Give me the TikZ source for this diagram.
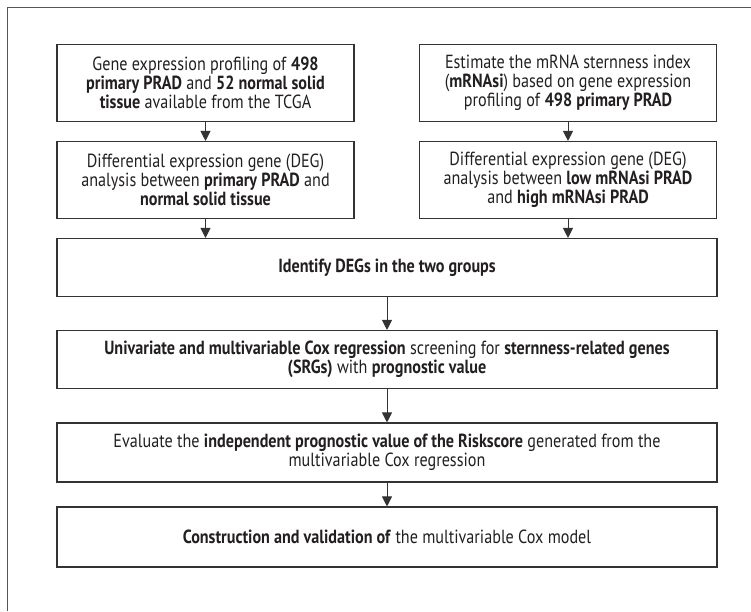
\documentclass[tikz,border=0pt]{standalone}
\usepackage{fontspec}
\setmainfont[FakeStretch=0.85]{PT Sans}
\usetikzlibrary{calc,arrows.meta}
\definecolor{linea}{HTML}{333333}
\definecolor{marco}{HTML}{555555}
\definecolor{texto}{HTML}{231F20}

\begin{document}
\begin{tikzpicture}[
      x=1pt, y=-1pt,
      paso/.style={draw=linea, line width=1.1pt, align=center, text=texto,
                   font=\fontsize{19}{19}\selectfont, inner sep=0pt,
                   minimum width=297pt, minimum height=77pt},
      ancho/.style={paso, minimum width=660pt, minimum height=58pt},
      flecha/.style={draw=linea, line width=1pt,
                     -{Triangle[width=10pt,length=10pt]}}
    ]
    \useasboundingbox (0,0) rectangle (751,611);
    \draw[marco, line width=0.8pt] (7,611) -- (7,7) -- (751,7);

    \node[paso] (perfil) at (205.5,83)  {Gene expression profiling of \textbf{498}\\
      \textbf{primary PRAD} and \textbf{52 normal solid}\\
      \textbf{tissue} available from the TCGA};
    \node[paso] (degn)   at (205.5,180) {Differential expression gene (DEG)\\
      analysis between \textbf{primary PRAD} and\\
      \textbf{normal solid tissue}};
    \node[paso] (indice) at (568,83)    {Estimate the mRNA sternness index\\
      (\textbf{mRNAsi}) based on gene expression\\
      profiling of \textbf{498 primary PRAD}};
    \node[paso] (degm)   at (568,180)   {Differential expression gene (DEG)\\
      analysis between \textbf{low mRNAsi PRAD}\\
      and \textbf{high mRNAsi PRAD}};
    \node[ancho] (ident) at (387,267.5) {\textbf{Identify DEGs in the two groups}};
    \node[ancho] (cox)   at (387,359.5) {\textbf{Univariate and multivariable Cox regression} screening for \textbf{sternness-related genes}\\
      \textbf{(SRGs)} with \textbf{prognostic value}};
    \node[ancho, minimum height=59pt] (riesgo) at (387,452.5) {Evaluate the \textbf{independent prognostic value of the Riskscore} generated from the\\
      multivariable Cox regression};
    \node[ancho, minimum height=60pt] (modelo) at (387,537) {\textbf{Construction and validation of} the multivariable Cox model};

    \draw[flecha] (perfil) -- (degn);
    \draw[flecha] (indice) -- (degm);
    \draw[flecha] (degn) -- (degn |- ident.north);
    \draw[flecha] (degm) -- (degm |- ident.north);
    \draw[flecha] (ident) -- (cox);
    \draw[flecha] (cox) -- (riesgo);
    \draw[flecha] (riesgo) -- (modelo);
  \end{tikzpicture}
\end{document}
